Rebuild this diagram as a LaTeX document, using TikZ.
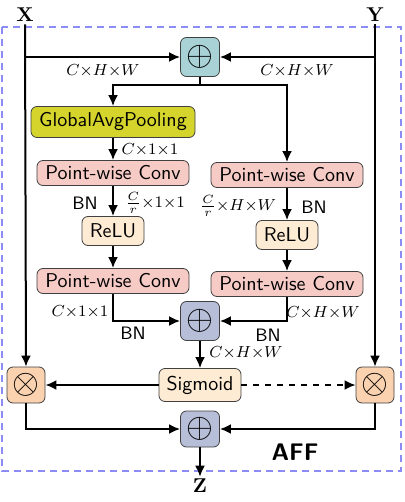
\documentclass[tikz,border=0pt]{standalone}
\usetikzlibrary{arrows.meta}
\definecolor{addteal}{HTML}{A9D2D6}
\definecolor{poololive}{HTML}{D4D42C}
\definecolor{convpink}{HTML}{F6CBC6}
\definecolor{relucream}{HTML}{FEEBD4}
\definecolor{addgray}{HTML}{B7BED8}
\definecolor{mulorange}{HTML}{FAD2B0}
\definecolor{frameblue}{HTML}{8C8CF6}
\begin{document}
\begin{tikzpicture}[x=0.5pt, y=-0.5pt, >={Latex[length=5.5pt,width=5pt]}, font=\sffamily,
		blk/.style={draw=black!75, rounded corners=3pt, inner sep=0pt, align=center},
		conv/.style={blk, fill=convpink, minimum width=76pt, minimum height=12.5pt},
		relu/.style={blk, fill=relucream, minimum width=31pt, minimum height=14.5pt},
		opbox/.style={blk, minimum width=19.5pt, minimum height=19.5pt, font=\LARGE},
		dim/.style={font=\footnotesize},
		bn/.style={font=\sffamily\small},
		flow/.style={line width=1pt}]
		\useasboundingbox (0,0) rectangle (404,502);
		\draw[frameblue, line width=0.6pt, dash pattern=on 3.5pt off 2.5pt] (2,27) rectangle (401,471);
		% inputs and output
		\node[font=\bfseries, inner sep=1pt] (xin) at (25,15) {X};
		\node[font=\bfseries, inner sep=1pt] (yin) at (375,15) {Y};
		\node[font=\bfseries, inner sep=1pt] (zout) at (200,486) {Z};
		% blocks
		\node[opbox, fill=addteal] (add1) at (200,57) {$\oplus$};
		\node[blk, fill=poololive, minimum width=82pt, minimum height=15.5pt] (gap) at (113,122) {GlobalAvgPooling};
		\node[conv] (pwL1) at (113,173) {Point-wise Conv};
		\node[relu] (reluL) at (113,231) {ReLU};
		\node[conv] (pwL2) at (113,281) {Point-wise Conv};
		\node[conv] (pwR1) at (287,175) {Point-wise Conv};
		\node[relu] (reluR) at (287,235) {ReLU};
		\node[conv] (pwR2) at (287,284) {Point-wise Conv};
		\node[opbox, fill=addgray] (add2) at (200,321) {$\oplus$};
		\node[blk, fill=relucream, minimum width=41pt, minimum height=16.5pt] (sig) at (200,385) {Sigmoid};
		\node[opbox, fill=mulorange, minimum width=19pt, minimum height=18pt] (mulL) at (26,385) {$\otimes$};
		\node[opbox, fill=mulorange, minimum width=19pt, minimum height=18pt] (mulR) at (375,385) {$\otimes$};
		\node[opbox, fill=addgray, minimum height=18pt] (add3) at (200,429) {$\oplus$};
		\coordinate (split) at (200,85);
		% connectors
		\draw[flow, ->] (xin.south) -- (mulL.north);
		\draw[flow, ->] (yin.south) -- (mulR.north);
		\draw[flow, ->] (xin.south |- add1.west) -- (add1.west);
		\draw[flow, ->] (yin.south |- add1.east) -- (add1.east);
		\draw[flow] (add1.south) -- (split);
		\draw[flow, ->] (split) -| (gap.north);
		\draw[flow, ->] (split) -| (pwR1.north);
		\draw[flow, ->] (gap) -- (pwL1);
		\draw[flow, ->] (pwL1) -- (reluL);
		\draw[flow, ->] (reluL) -- (pwL2);
		\draw[flow, ->] (pwR1) -- (reluR);
		\draw[flow, ->] (reluR) -- (pwR2);
		\draw[flow, ->] (pwL2.south) |- (add2.west);
		\draw[flow, ->] (pwR2.south) |- (add2.east);
		\draw[flow, ->] (add2) -- (sig);
		\draw[flow, ->] (sig) -- (mulL);
		\draw[flow, ->, dashed] (sig) -- (mulR);
		\draw[flow, ->] (mulL.south) |- (add3.west);
		\draw[flow, ->] (mulR.south) |- (add3.east);
		\draw[flow, ->] (add3) -- (zout);
		% labels
		\node[dim] at (103,71) {$C{\times}H{\times}W$};
		\node[dim] at (297,71) {$C{\times}H{\times}W$};
		\node[dim] at (150,150) {$C{\times}1{\times}1$};
		\node[bn] at (85,203) {BN};
		\node[dim] at (155,203) {$\frac{C}{r}{\times}1{\times}1$};
		\node[dim] at (238,206) {$\frac{C}{r}{\times}H{\times}W$};
		\node[bn] at (314,207) {BN};
		\node[dim] at (80,312) {$C{\times}1{\times}1$};
		\node[bn] at (133,333) {BN};
		\node[dim] at (323,313) {$C{\times}H{\times}W$};
		\node[bn] at (268,335) {BN};
		\node[dim] at (246,353) {$C{\times}H{\times}W$};
		\node[font=\sffamily\large\bfseries] at (295,452) {AFF};
	\end{tikzpicture}
\end{document}
